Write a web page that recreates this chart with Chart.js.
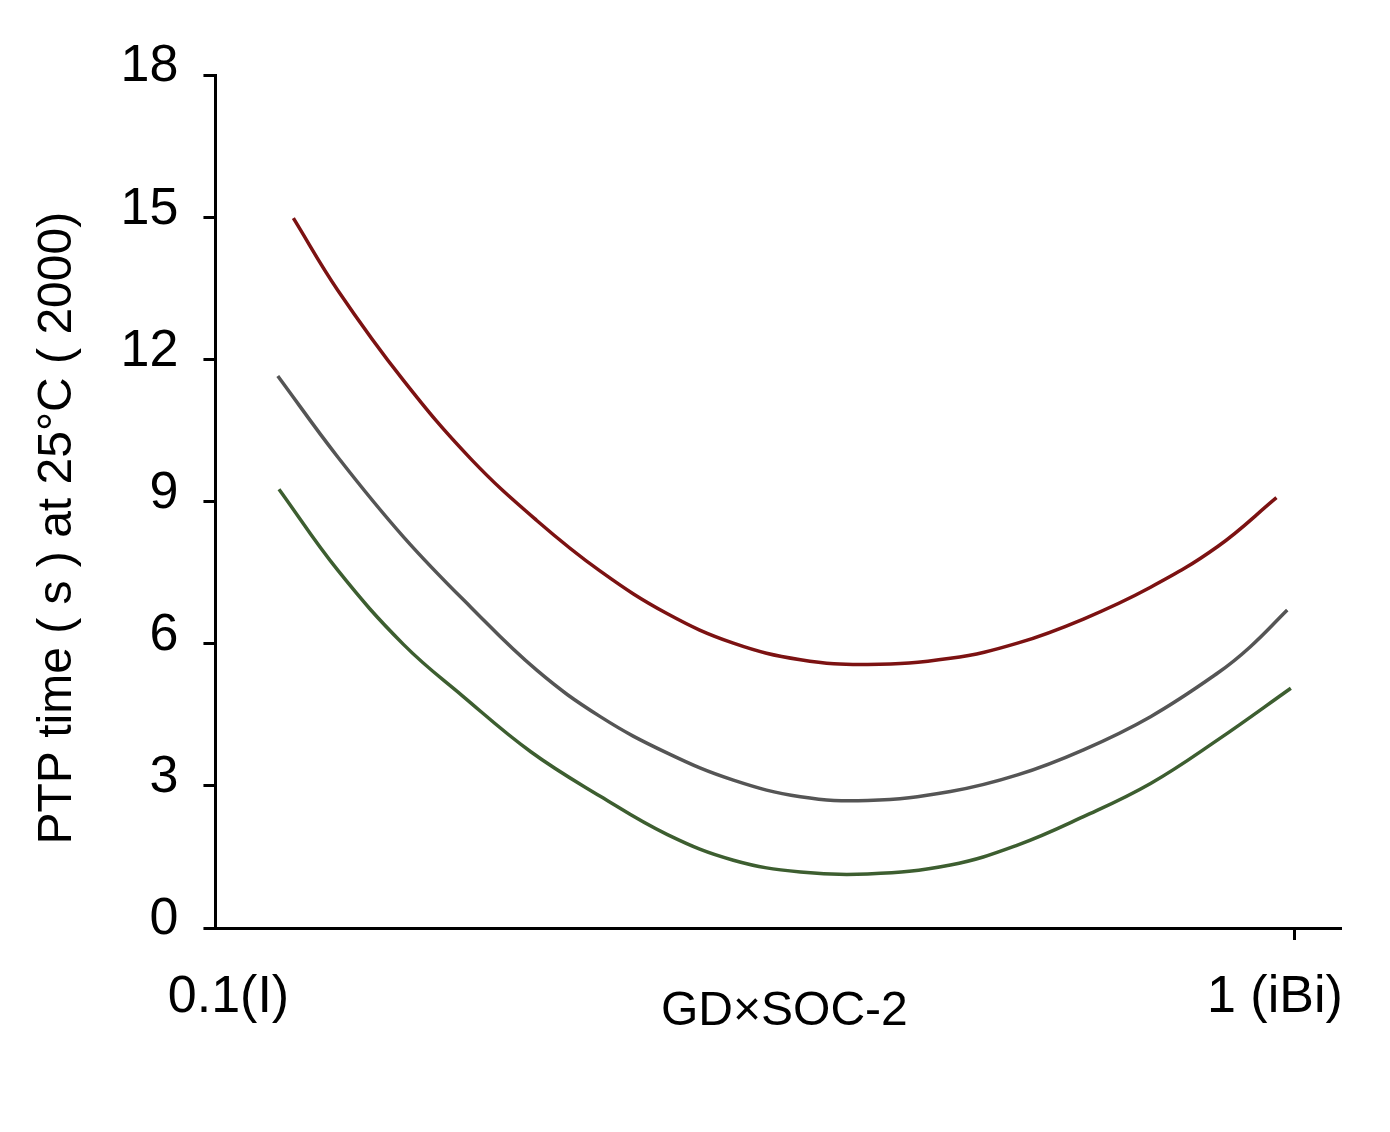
<!DOCTYPE html>
<html>
<head>
    <title>PTP time</title>
    <script src="https://cdn.jsdelivr.net/npm/chart.js"></script>
    <style>
        body { margin: 0; background: #fff; }
    </style>
</head>
<body>
    <canvas id="ptp-chart" width="1390" height="1132"></canvas>

    <script>
        // axis ticks
        const xTicks = [0.1, 1];
        const xTickLabels = ['0.1(I)', '1 (iBi)'];
        const yTicks = [0, 3, 6, 9, 12, 15, 18];

        // red curve
        const redX = [0.165, 0.202, 0.257, 0.313, 0.368, 0.421, 0.477, 0.532, 0.588, 0.644, 0.713, 0.769, 0.824, 0.880, 0.936, 0.985];
        const redY = [14.98, 13.46, 11.55, 9.90, 8.60, 7.53, 6.63, 6.01, 5.66, 5.56, 5.69, 6.01, 6.52, 7.19, 8.05, 9.08];

        // gray curve
        const grayX = [0.152, 0.202, 0.257, 0.313, 0.368, 0.421, 0.477, 0.532, 0.588, 0.644, 0.713, 0.769, 0.824, 0.880, 0.936, 0.963, 0.994];
        const grayY = [11.65, 9.94, 8.25, 6.77, 5.44, 4.46, 3.69, 3.12, 2.77, 2.69, 2.88, 3.23, 3.76, 4.46, 5.38, 5.93, 6.71];

        // green curve
        const greenX = [0.153, 0.202, 0.257, 0.306, 0.363, 0.421, 0.477, 0.532, 0.588, 0.644, 0.713, 0.769, 0.824, 0.880, 0.936, 0.997];
        const greenY = [9.26, 7.55, 5.98, 4.90, 3.72, 2.78, 1.97, 1.43, 1.18, 1.14, 1.33, 1.75, 2.35, 3.05, 3.97, 5.06];

        function toPoints(xs, ys) {
            return xs.map((x, i) => ({ x: x, y: ys[i] }));
        }

        function curve(xs, ys, color) {
            return {
                data: toPoints(xs, ys),
                borderColor: color,
                borderWidth: 3.5,
                pointRadius: 0,
                fill: false,
                tension: 0.4
            };
        }

        Chart.defaults.font.family = "'Liberation Sans', Arial, Helvetica, sans-serif";
        Chart.defaults.color = '#000';

        const ctx = document.getElementById('ptp-chart').getContext('2d');
        new Chart(ctx, {
            type: 'line',
            data: {
                datasets: [
                    curve(redX, redY, '#7c1212'),
                    curve(grayX, grayY, '#555555'),
                    curve(greenX, greenY, '#3d5e30')
                ]
            },
            options: {
                responsive: false,
                animation: false,
                devicePixelRatio: 1,
                layout: {
                    padding: { left: 26, right: 50, top: 75, bottom: 91 }
                },
                plugins: {
                    legend: { display: false },
                    tooltip: { enabled: false }
                },
                scales: {
                    // axis line + tick mark at 1
                    x: {
                        type: 'linear',
                        position: 'bottom',
                        weight: 0,
                        min: 0.1,
                        max: 1.038,
                        afterBuildTicks: axis => {
                            axis.ticks = xTicks.map(v => ({ value: v }));
                        },
                        ticks: { display: false },
                        grid: {
                            drawOnChartArea: false,
                            tickLength: 12,
                            lineWidth: 3,
                            color: c => (c.tick && c.tick.value === 1) ? '#000' : 'rgba(0,0,0,0)'
                        },
                        border: { display: true, color: '#000', width: 3 }
                    },
                    // tick labels and title, set a little off the marks as in the picture
                    xLabels: {
                        type: 'linear',
                        position: 'bottom',
                        weight: 1,
                        min: 0.0888,
                        max: 1.056,
                        afterBuildTicks: axis => {
                            axis.ticks = xTicks.map(v => ({ value: v }));
                        },
                        ticks: {
                            callback: (v, i) => xTickLabels[i],
                            font: { size: 52 },
                            padding: 26,
                            maxRotation: 0,
                            autoSkip: false
                        },
                        grid: { display: false, drawTicks: false },
                        border: { display: false },
                        title: {
                            display: true,
                            text: ' GD×SOC-2',
                            font: { size: 48 },
                            padding: { top: -71, bottom: 0 }
                        }
                    },
                    y: {
                        type: 'linear',
                        min: 0,
                        max: 18,
                        afterBuildTicks: axis => {
                            axis.ticks = yTicks.map(v => ({ value: v }));
                        },
                        ticks: {
                            font: { size: 52 },
                            padding: 25,
                            labelOffset: -8
                        },
                        grid: {
                            drawOnChartArea: false,
                            tickLength: 12,
                            lineWidth: 3,
                            color: '#000'
                        },
                        border: { display: true, color: '#000', width: 3 },
                        title: {
                            display: true,
                            text: 'PTP time ( s ) at 25°C ( 2000)    ',
                            font: { size: 48 },
                            padding: { top: 3, bottom: 9 }
                        }
                    }
                }
            }
        });
    </script>
</body>
</html>
